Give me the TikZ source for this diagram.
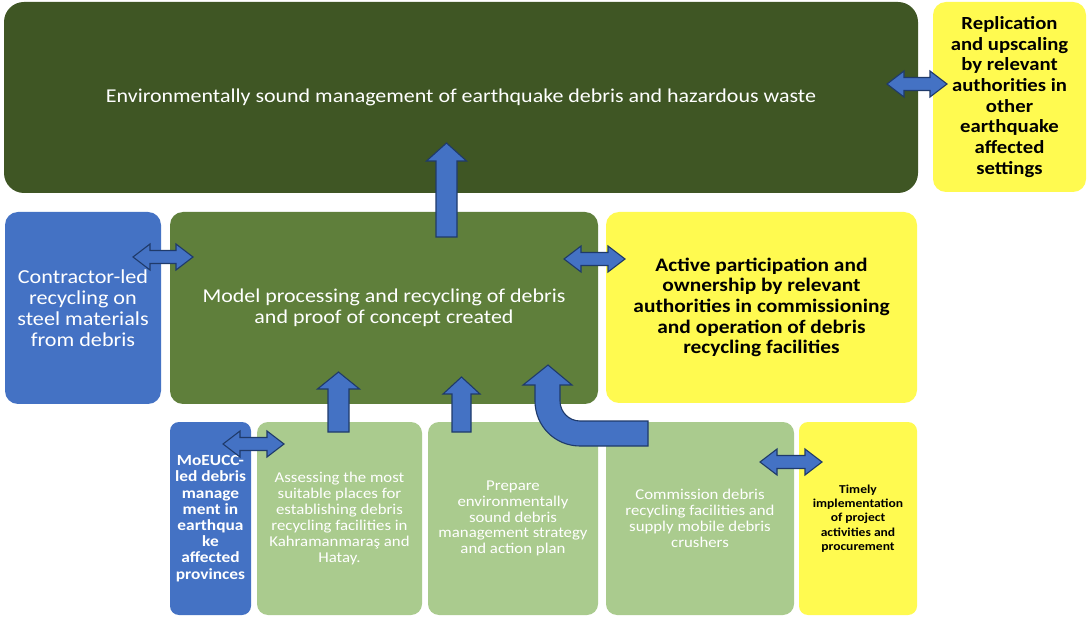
\documentclass[tikz,border=0pt]{standalone}
\usepackage{fontspec}
\setmainfont{Carlito}[FakeStretch=1.12]
\definecolor{darkolive}{HTML}{3F5624}
\definecolor{midolive}{HTML}{5F7F3B}
\definecolor{paleolive}{HTML}{AACB8E}
\definecolor{steelblue}{HTML}{4472C4}
\definecolor{lemon}{HTML}{FFFA50}
\definecolor{navyline}{HTML}{1F3A6A}
\newcommand{\fs}[2]{\fontsize{#1}{#2}\selectfont}
% horizontal double block arrow: tips at x1 and x2, centre line y
\newcommand{\dblblock}[3]{%
  \draw[blockarrow] (#1,#3) -- ++(17,-13) -- ++(0,6.5) -- (#2-17,#3-6.5) -- ++(0,-6.5)
    -- (#2,#3) -- (#2-17,#3+13) -- ++(0,-6.5) -- (#1+17,#3+6.5) -- ++(0,6.5) -- cycle;}
% vertical block arrow: centre x, tip y, head base y, tail y, shaft half width, head half width
\newcommand{\upblock}[6]{%
  \draw[blockarrow] (#1,#2) -- (#1+#6,#3) -- (#1+#5,#3) -- (#1+#5,#4) -- (#1-#5,#4)
    -- (#1-#5,#3) -- (#1-#6,#3) -- cycle;}
\tikzset{
  box/.style={rounded corners=13pt, inner sep=0pt, align=center, anchor=center},
  blockarrow/.style={fill=steelblue, draw=navyline, line width=1.1pt, line join=miter},
}
\begin{document}
\begin{tikzpicture}[x=1pt, y=-1pt]
\useasboundingbox[fill=white] (0,0) rectangle (1087,617);

% top row
\node[box, rounded corners=20pt, fill=darkolive, minimum width=914pt, minimum height=191pt, text=white,
  font=\fs{19.6}{22}]
  (goal) at (461,97.5) {Environmentally sound management of earthquake debris and hazardous waste};
\node[box, fill=lemon, minimum width=153pt, minimum height=190pt, font=\fs{18.5}{20.7}\bfseries]
  (replic) at (1009.5,97) {Replication\\and upscaling\\by relevant\\authorities in\\other\\earthquake\\affected\\settings};

% middle row
\node[box, fill=steelblue, minimum width=156pt, minimum height=192pt, text=white, font=\fs{19.8}{21}]
  (steel) at (83,308) {Contractor-led\\recycling on\\steel materials\\from debris};
\node[box, fill=midolive, minimum width=428pt, minimum height=192pt, text=white, font=\fs{19.6}{21}]
  (model) at (384,308) {Model processing and recycling of debris\\and proof of concept created};
\node[box, fill=lemon, minimum width=311pt, minimum height=191pt, font=\fs{19.1}{20.7}\bfseries]
  (owner) at (761.5,307.5) {Active participation and\\ownership by relevant\\authorities in commissioning\\and operation of debris\\recycling facilities};

% bottom row
\node[box, rounded corners=9pt, fill=steelblue, minimum width=81pt, minimum height=193pt, text=white,
  font=\fs{15.5}{16.2}\bfseries]
  (moeucc) at (210.5,518.5) {MoEUCC-\\led debris\\manage\\ment in\\earthqua\\ke\\affected\\provinces};
\node[box, rounded corners=11pt, fill=paleolive, minimum width=165pt, minimum height=193pt, text=white,
  font=\fs{15}{16}]
  (assess) at (339.5,518.5) {Assessing the most\\suitable places for\\establishing debris\\recycling facilities in\\Kahramanmaraş and\\Hatay.};
\node[box, rounded corners=11pt, fill=paleolive, minimum width=170pt, minimum height=193pt, text=white,
  font=\fs{15}{15.8}]
  (strategy) at (513,518.5) {Prepare\\environmentally\\sound debris\\management strategy\\and action plan};
\node[box, rounded corners=11pt, fill=paleolive, minimum width=188pt, minimum height=193pt, text=white,
  font=\fs{15}{16}]
  (commission) at (700,518.5) {Commission debris\\recycling facilities and\\supply mobile debris\\crushers};
\node[box, rounded corners=9pt, fill=lemon, minimum width=118pt, minimum height=193pt,
  font=\fs{12.1}{14.3}\bfseries]
  (timely) at (858,518.5) {Timely\\implementation\\of project\\activities and\\procurement};

% block arrows between the boxes
\dblblock{887}{947}{84}
\dblblock{133}{193}{257}
\dblblock{564}{625}{259}
\dblblock{223}{284}{444}
\dblblock{760}{822}{462}
\upblock{446.5}{143}{161}{237}{10.5}{20}
\upblock{338.5}{372}{389}{432}{10.5}{21}
\upblock{461.5}{377}{394}{432}{9.5}{18.5}
% bent arrow from the commissioning box up into the model box
\draw[blockarrow] (548,365) -- (572,385) -- (560,385) -- (560,401)
  .. controls (560,412) and (569,421) .. (580,421) -- (648,421) -- (648,446) -- (580,446)
  .. controls (555,446) and (535,426) .. (535,401) -- (535,385) -- (523,385) -- cycle;
\end{tikzpicture}
\end{document}
